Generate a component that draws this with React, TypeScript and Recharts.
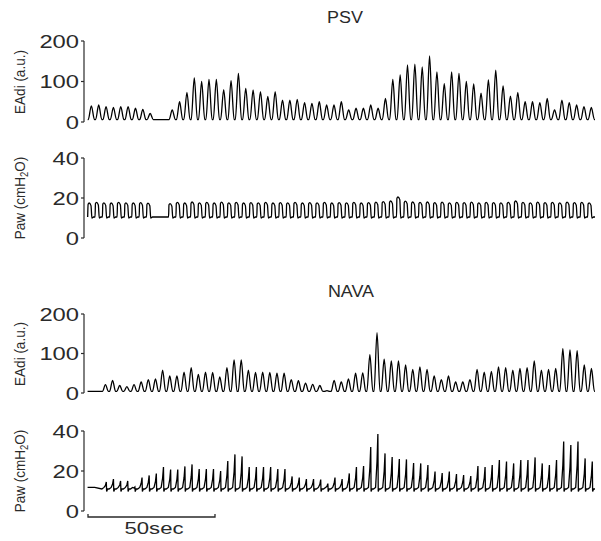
import { Line, LineChart, XAxis, YAxis } from 'recharts'

// peak value of every breath slot, left to right (null = no breath / pause)
const PSV_EADI_PEAKS = [
  40, 42, 38, 36, 38, 38, 34, 31, 21, null, null,
  30, 50, 73, 109, 100, 105, 105, 80, 102, 120, 83, 79, 75, 63, 75, 54, 54, 56, 48, 46, 50, 42, 42, 50,
  30, 34, 34, 42, 34, 58, 105, 116, 141, 143, 136, 163, 124, 95, 124, 120, 100, 94, 71, 104,
  128, 89, 64, 73, 50, 50, 48, 58, 30, 54, 48, 42, 38, 36,
]
const PSV_PAW_PEAKS = [
  17.5, 17.8, 17.6, 17.5, 17.8, 17.6, 17.5, 17.7, 17.4, null, null,
  17.2, 17.8, 17.5, 18, 17.6, 17.8, 17.5, 17.9, 17.6, 17.8, 17.5, 17.7, 17.6, 17.8, 17.5, 17.7, 17.6, 17.8, 17.5, 17.7, 17.6, 17.8, 17.5, 17.7,
  17.6, 17.8, 17.5, 17.7, 17.9, 18.2, 18.5, 20.5, 18.4, 18, 17.8, 18, 17.7, 17.9, 17.6, 17.8, 17.7, 17.9, 17.6, 17.8,
  17.7, 17.6, 17.8, 18.5, 17.8, 17.6, 17.9, 17.7, 17.8, 17.6, 17.9, 17.7, 17.8, 17.6,
]
const NAVA_EADI_PEAKS = [
  null, null,
  21, 32, 19, 16, 21, 28, 34, 36, 58, 43, 43, 53, 64, 47, 53, 52, 41, 64, 84, 84,
  58, 52, 53, 52, 50, 50, 34, 31, 25, 22, 19, 6, 32, 28,
  36, 50, 51, 97, 153, 86, 81, 81, 71, 60, 66, 60, 43, 34, 43, 28, 28, 34, 60, 53,
  55, 66, 64, 58, 62, 64, 81, 58, 60, 62, 112, 109, 107, 71, 62,
]
const NAVA_PAW_PEAKS = [
  null, null,
  14.5, 16, 15, 15, 12, 16.7, 17.8, 18.7, 22, 20.7, 20.7, 22.3, 23.3, 21, 21, 21, 20, 25, 28.3, 27.3,
  22, 22, 22, 22, 21, 21, 17.3, 16.7, 16, 16, 15.7, 13.7, 16.7, 16,
  18.8, 22, 22.5, 32, 38.5, 28.8, 27, 26, 25.8, 24, 23.8, 23, 19.7, 19, 19.7, 18.5, 18, 17.5, 22.5, 22,
  23, 25.5, 24.7, 23.8, 25.5, 25.5, 26.8, 23.8, 23, 25.5, 34.7, 33, 34.7, 26.3, 24.7,
]
const PSV_EADI_BASE = 6
const PSV_PAW_BASE = 10.5
const NAVA_EADI_BASE = 4
const NAVA_PAW_BASE = 11

const EADI_TICKS = [0, 100, 200]
const PAW_TICKS = [0, 20, 40]

type Row = { t: number; v: number }
type Peaks = (number | null)[]

function eadiRows(peaks: Peaks, base: number): Row[] {
  const rows: Row[] = []
  peaks.forEach((p, i) => {
    if (p == null) {
      rows.push({ t: i, v: base }, { t: i + 0.5, v: base })
      return
    }
    rows.push({ t: i, v: base }, { t: i + 0.08, v: base }, { t: i + 0.5, v: p }, { t: i + 0.92, v: base })
  })
  rows.push({ t: peaks.length, v: base })
  return rows
}

function psvPawRows(peaks: Peaks, base: number): Row[] {
  const rows: Row[] = []
  peaks.forEach((p, i) => {
    if (p == null) {
      rows.push({ t: i, v: base })
      return
    }
    rows.push(
      { t: i, v: base },
      { t: i + 0.06, v: p - 0.6 },
      { t: i + 0.2, v: p },
      { t: i + 0.45, v: p - 1.3 },
      { t: i + 0.58, v: base - 0.6 },
      { t: i + 0.8, v: base },
    )
  })
  rows.push({ t: peaks.length, v: base })
  return rows
}

function navaPawRows(peaks: Peaks, base: number): Row[] {
  const rows: Row[] = []
  peaks.forEach((p, i) => {
    if (p == null) {
      rows.push({ t: i, v: base + 0.8 })
      return
    }
    rows.push(
      { t: i, v: base },
      { t: i + 0.3, v: base + 0.8 },
      { t: i + 0.5, v: base + (p - base) * 0.5 },
      { t: i + 0.62, v: p },
      { t: i + 0.67, v: base - 1.3 },
      { t: i + 0.8, v: base },
    )
  })
  rows.push({ t: peaks.length, v: base })
  return rows
}

const FONT = '"Liberation Sans", Arial, sans-serif'
const INK = '#2a2a2a'

function StretchTick(props: any) {
  const { x, y, payload } = props
  return (
    <text
      transform={`translate(${x},${y}) scale(1.25,1)`}
      textAnchor="end"
      dy="0.36em"
      fontSize={19}
      fontFamily={FONT}
      fill={INK}
    >
      {payload.value}
    </text>
  )
}

function Panel({ top, bottom, data, max, ticks, curve }: {
  top: number
  bottom: number
  data: Row[]
  max: number
  ticks: number[]
  curve: 'monotone' | 'linear'
}) {
  const slots = data[data.length - 1].t
  return (
    <div style={{ position: 'absolute', left: 0, top: top - 12 }}>
      <LineChart width={601} height={bottom - top + 24} data={data} margin={{ top: 12, right: 6, bottom: 12, left: 0 }}>
        <XAxis type="number" dataKey="t" domain={[-0.5, slots]} hide />
        <YAxis
          domain={[0, max]}
          ticks={ticks}
          width={84}
          tickSize={3}
          tickMargin={2}
          axisLine={{ stroke: INK, strokeWidth: 1.2 }}
          tickLine={{ stroke: INK, strokeWidth: 1.2 }}
          tick={<StretchTick />}
          interval={0}
        />
        <Line type={curve} dataKey="v" stroke="#000" strokeWidth={1.3} dot={false} isAnimationActive={false} />
      </LineChart>
    </div>
  )
}

function AxisTitle({ cy, children }: { cy: number; children: React.ReactNode }) {
  return (
    <div
      style={{
        position: 'absolute',
        left: 20,
        top: cy,
        transform: 'translate(-50%, -50%) rotate(-90deg) scaleY(1.1)',
        fontFamily: FONT,
        fontSize: 13.5,
        color: INK,
        whiteSpace: 'nowrap',
        lineHeight: 1,
      }}
    >
      {children}
    </div>
  )
}

function Title({ cx, cy, text, size, stretch }: { cx: number; cy: number; text: string; size: number; stretch: number }) {
  return (
    <div
      style={{
        position: 'absolute',
        left: cx,
        top: cy,
        transform: `translate(-50%, -50%) scaleX(${stretch})`,
        fontFamily: FONT,
        fontSize: size,
        color: INK,
        lineHeight: 1,
      }}
    >
      {text}
    </div>
  )
}

const pawLabel = (
  <>
    Paw (cmH<sub style={{ fontSize: 9.5, verticalAlign: 'baseline', position: 'relative', top: 3 }}>2</sub>O)
  </>
)

export default function App() {
  return (
    <div style={{ position: 'absolute', left: 0, top: 0, width: 601, height: 541, background: '#fff', overflow: 'hidden' }}>
      <Title cx={345} cy={18} text="PSV" size={16} stretch={1.12} />
      <Title cx={351} cy={292} text="NAVA" size={16} stretch={1.12} />

      <AxisTitle cy={82}>EAdi (a.u.)</AxisTitle>
      <AxisTitle cy={198}>{pawLabel}</AxisTitle>
      <AxisTitle cy={354}>EAdi (a.u.)</AxisTitle>
      <AxisTitle cy={471}>{pawLabel}</AxisTitle>

      <Panel top={41} bottom={122} data={eadiRows(PSV_EADI_PEAKS, PSV_EADI_BASE)} max={200} ticks={EADI_TICKS} curve="monotone" />
      <Panel top={158} bottom={238} data={psvPawRows(PSV_PAW_PEAKS, PSV_PAW_BASE)} max={40} ticks={PAW_TICKS} curve="monotone" />
      <Panel top={314} bottom={393} data={eadiRows(NAVA_EADI_PEAKS, NAVA_EADI_BASE)} max={200} ticks={EADI_TICKS} curve="monotone" />
      <Panel top={431} bottom={511} data={navaPawRows(NAVA_PAW_PEAKS, NAVA_PAW_BASE)} max={40} ticks={PAW_TICKS} curve="linear" />

      {/* 50 s scale bar */}
      <svg style={{ position: 'absolute', left: 0, top: 0 }} width={601} height={541}>
        <polyline points="88,514 88,517 215,517 215,514" fill="none" stroke={INK} strokeWidth={1.3} />
      </svg>
      <Title cx={154} cy={528} text="50sec" size={17} stretch={1.3} />
    </div>
  )
}
